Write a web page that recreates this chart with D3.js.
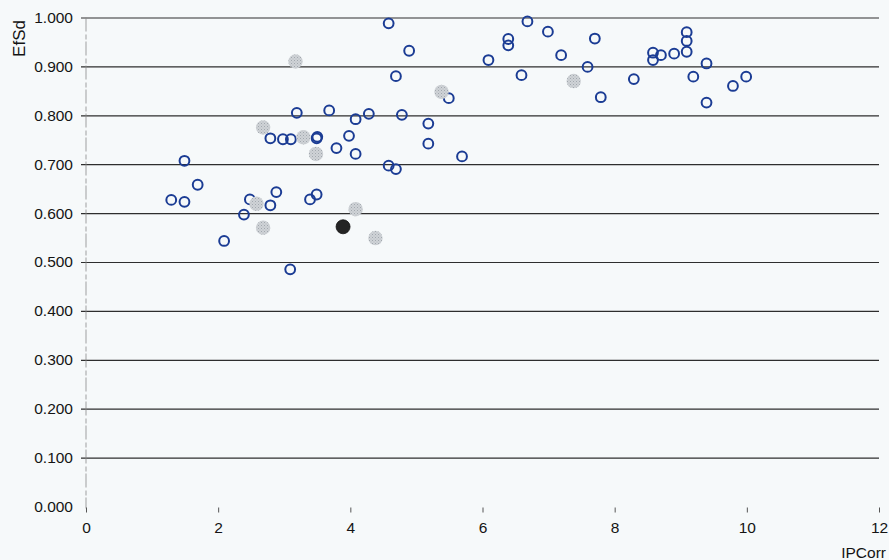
<!DOCTYPE html>
<html>
<head>
<meta charset="utf-8">
<script src="https://cdn.jsdelivr.net/npm/d3@7"></script>
<style>
  html, body { margin: 0; padding: 0; background: #f6f9fa; }
  svg { display: block; }
  text { font-family: "Liberation Sans", Arial, sans-serif; fill: #141414; }
</style>
</head>
<body>
<svg id="chart" width="889" height="560"></svg>
<script>
// IPCorr / EfSd values, grouped by marker style
const openPoints = [
  [1.29,0.627],[1.49,0.623],[1.49,0.707],[1.69,0.658],[2.09,0.543],[2.39,0.597],
  [2.48,0.628],[2.79,0.616],[2.88,0.643],[3.09,0.485],[3.39,0.628],[3.49,0.638],
  [2.79,0.753],[2.98,0.751],[3.10,0.751],[3.19,0.805],[3.49,0.753],[3.50,0.756],
  [3.68,0.810],[3.79,0.733],[3.98,0.758],[4.08,0.721],[4.08,0.792],[4.28,0.803],
  [4.58,0.697],[4.69,0.690],[4.78,0.801],[5.18,0.783],[5.18,0.742],[5.69,0.716],
  [4.58,0.988],[4.89,0.932],[4.69,0.880],[5.49,0.835],[6.09,0.913],[6.39,0.956],
  [6.39,0.943],[6.59,0.882],[6.68,0.992],[6.99,0.971],[7.19,0.923],[7.59,0.899],
  [7.70,0.957],[7.79,0.837],[8.29,0.874],[8.58,0.928],[8.58,0.913],[8.70,0.923],
  [8.90,0.926],[9.09,0.970],[9.09,0.952],[9.09,0.930],[9.19,0.879],[9.39,0.906],
  [9.39,0.826],[9.79,0.860],[9.99,0.879]
];
const grayPoints = [
  [3.17,0.910],[2.68,0.775],[3.29,0.755],[3.48,0.721],[2.58,0.619],[2.68,0.570],
  [4.08,0.608],[4.38,0.549],[5.38,0.848],[7.38,0.870]
];
const blackPoints = [[3.89,0.572]];

const xTicks = [0, 2, 4, 6, 8, 10, 12];
const yTicks = [0, 0.1, 0.2, 0.3, 0.4, 0.5, 0.6, 0.7, 0.8, 0.9, 1.0];
const xTitle = "IPCorr";
const yTitle = "EfSd";

const svg = d3.select("#chart");
const plotLeft = 86, plotRight = 879, plotTop = 17.5, plotBottom = 506.5;
const labelFont = "Liberation Sans, Arial, sans-serif";

const x = d3.scaleLinear().domain([0, 12]).range([plotLeft, plotRight]);
const y = d3.scaleLinear().domain([0, 1]).range([plotBottom, plotTop]);

// stipple fill for the gray markers
const defs = svg.append("defs");
const pat = defs.append("pattern")
  .attr("id", "stipple").attr("patternUnits", "userSpaceOnUse")
  .attr("width", 3).attr("height", 3);
pat.append("rect").attr("width", 3).attr("height", 3).attr("fill", "#cfd3d7");
pat.append("rect").attr("x", 0).attr("y", 0).attr("width", 1).attr("height", 1).attr("fill", "#a2a8ae");
pat.append("rect").attr("x", 1.5).attr("y", 1.5).attr("width", 1).attr("height", 1).attr("fill", "#b4b9be");

// horizontal gridlines (0 has none) with short outward ticks
const yAxis = d3.axisLeft(y)
  .tickValues(yTicks)
  .tickSize(-(plotRight - plotLeft))
  .tickPadding(13)
  .tickFormat(d3.format(".3f"));
const gy = svg.append("g").attr("transform", `translate(${plotLeft},0)`).call(yAxis);
gy.select(".domain").remove();
gy.selectAll(".tick line")
  .attr("x1", -5)
  .attr("stroke", "#2e2e2e")
  .attr("stroke-width", 1.2)
  .attr("opacity", d => d === 0 ? 0 : 1);
gy.selectAll(".tick text")
  .attr("font-size", 15.5)
  .attr("font-family", labelFont)
  .attr("fill", "#141414");

// faint vertical axis
svg.append("line")
  .attr("x1", plotLeft).attr("x2", plotLeft)
  .attr("y1", plotTop).attr("y2", plotBottom + 2)
  .attr("stroke", "#8a8a8a")
  .attr("stroke-width", 1)
  .attr("stroke-dasharray", "14,3,5,2")
  .attr("opacity", 0.8);

// x axis: tick marks and labels only
const xAxis = d3.axisBottom(x).tickValues(xTicks).tickSize(5).tickPadding(9).tickFormat(d3.format("d"));
const gx = svg.append("g").attr("transform", `translate(0,${plotBottom + 1})`).call(xAxis);
gx.select(".domain").remove();
gx.selectAll(".tick line").attr("stroke", "#555").attr("stroke-width", 1);
gx.selectAll(".tick text")
  .attr("font-size", 15.5)
  .attr("font-family", labelFont)
  .attr("fill", "#141414");

// axis titles
svg.append("text")
  .attr("x", 886).attr("y", 558)
  .attr("text-anchor", "end")
  .attr("font-size", 15.5)
  .text(xTitle);
svg.append("text")
  .attr("transform", "translate(25,38.5) rotate(-90)")
  .attr("text-anchor", "middle")
  .attr("font-size", 17)
  .text(yTitle);

// markers
const plot = svg.append("g");
plot.selectAll("circle.open").data(openPoints).join("circle")
  .attr("class", "open")
  .attr("cx", d => x(d[0])).attr("cy", d => y(d[1]))
  .attr("r", 4.9)
  .attr("fill", "none")
  .attr("stroke", "#1b3c94")
  .attr("stroke-width", 2);
plot.selectAll("circle.gray").data(grayPoints).join("circle")
  .attr("class", "gray")
  .attr("cx", d => x(d[0])).attr("cy", d => y(d[1]))
  .attr("r", 7.2)
  .attr("fill", "url(#stipple)");
plot.selectAll("circle.black").data(blackPoints).join("circle")
  .attr("class", "black")
  .attr("cx", d => x(d[0])).attr("cy", d => y(d[1]))
  .attr("r", 7)
  .attr("fill", "#242424")
  .attr("stroke", "#111")
  .attr("stroke-width", 0.8);
</script>
</body>
</html>
